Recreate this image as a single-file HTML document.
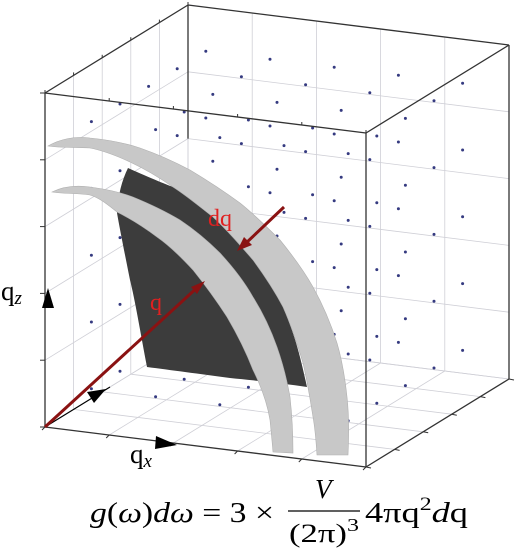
<!DOCTYPE html>
<html><head><meta charset="utf-8">
<style>
html,body{margin:0;padding:0;background:#fff;}
svg{display:block;}
text{font-family:"Liberation Serif","DejaVu Serif",serif;}
</style></head>
<body>
<svg id="fig" width="519" height="552" viewBox="0 0 519 552" xmlns="http://www.w3.org/2000/svg">
  <g id="grid"></g>
  <g id="dots"></g>
  <g id="edges"></g>

  <path fill="#3c3c3c"
    d="M128,168 C150,178 170,186 173,187 C195,200 205,210 213,217 C235,237 245,250 253,260 C270,283 278,297 283,307 C295,335 300,355 307,387 C280,383 250,380 230,378 C200,374 170,370 147,367 C140,330 135,300 130,280 C125,255 120,230 117,213 C118,195 122,180 128,168 Z"/>

  <path fill="#c8c8c8" stroke="#b0b0b0" stroke-width="0.6"
    d="M48,146 C60,139 75,136 90,138 C110,140 125,143 140,148 C160,155 175,162 190,170 C210,182 225,192 240,203 C255,215 268,228 280,240 C293,256 304,271 313,287 C323,305 331,324 337,343 C342,360 345,378 347,397 C349,415 349,435 348,455 L317,455 C316,440 315,428 313,417 C310,398 307,380 303,363 C297,343 291,325 283,307 C274,290 264,275 253,260 C240,245 227,230 213,217 C200,207 187,196 173,187 C160,178 145,169 130,162 C115,155 100,150 90,148 C75,147 60,148 48,146 Z"/>

  <path fill="#c8c8c8" stroke="#b0b0b0" stroke-width="0.6"
    d="M52,192 C62,187 75,185 90,187 C105,189 120,192 133,197 C150,204 165,211 180,220 C195,230 208,241 220,253 C232,266 244,281 253,297 C263,313 271,330 277,347 C283,364 287,380 290,397 C292,415 293,435 293,453 L273,452 C272,440 271,430 270,420 C267,402 261,386 253,370 C246,352 237,334 227,317 C216,300 205,285 193,270 C181,257 170,246 157,237 C145,228 131,219 117,212 C108,205 100,198 90,195 C78,193 64,194 52,192 Z"/>

  <line x1="45" y1="427" x2="110" y2="387" stroke="#000" stroke-width="1.2"/>
  <g>
    <line x1="45" y1="427" x2="200" y2="285" stroke="#8a1212" stroke-width="3"/>
    <polygon points="205,281 191,287 197,294" fill="#8a1212"/>
  </g>
  <g>
    <line x1="284" y1="207" x2="245" y2="244" stroke="#8a1212" stroke-width="3"/>
    <polygon points="237,251 244,237 252,245" fill="#8a1212"/>
  </g>
  <text x="208" y="226" font-size="24" fill="#e02020">dq</text>
  <text x="150" y="310" font-size="24" fill="#e02020">q</text>

  <g>
    <polygon points="48,288 42,308 54,308" fill="#000"/>
    <polygon points="177,445 156,436 155,449" fill="#000"/>
    <polygon points="106,389 87,392 94,403" fill="#000"/>
  </g>
  <text x="1" y="300" font-size="27">q<tspan font-style="italic" font-size="19" dy="4">z</tspan></text>
  <text x="130" y="463" font-size="27">q<tspan font-style="italic" font-size="19" dy="4">x</tspan></text>

  <g>
    <text x="90" y="522" font-size="29" textLength="184" lengthAdjust="spacingAndGlyphs"><tspan font-style="italic">g</tspan>(<tspan font-style="italic">ω</tspan>)<tspan font-style="italic">dω</tspan> = 3 ×</text>
    <text x="315" y="498" font-size="27" font-style="italic">V</text>
    <line x1="288" y1="511" x2="360" y2="511" stroke="#000" stroke-width="1.3"/>
    <text x="289" y="542" font-size="26" textLength="70" lengthAdjust="spacingAndGlyphs">(2π)<tspan font-size="18" dy="-11">3</tspan></text>
    <text x="365" y="522" font-size="29" textLength="103" lengthAdjust="spacingAndGlyphs">4πq<tspan font-size="19" dy="-12">2</tspan><tspan dy="12" font-style="italic">d</tspan>q</text>
  </g>
</svg>
<script>
// projection basis (screen px) for unit cube
const O=[45,427], EX=[321,40], EY=[143,-88], EZ=[0,-334];
const divisions=[0,1,2,3,4,5];
const dotOffsets=[0.5,1.5,2.5,3.5,4.5];
function P(x,y,z){return [O[0]+x*EX[0]+y*EY[0]+z*EZ[0], O[1]+x*EX[1]+y*EY[1]+z*EZ[1]];}
const NS='http://www.w3.org/2000/svg';
function line(g,a,b,col,w,name){
  const l=document.createElementNS(NS,'line');
  l.setAttribute('x1',a[0]);l.setAttribute('y1',a[1]);l.setAttribute('x2',b[0]);l.setAttribute('y2',b[1]);
  l.setAttribute('stroke',col);l.setAttribute('stroke-width',w);
  
  
  g.appendChild(l);
}
const grid=document.getElementById('grid');
divisions.forEach(d=>{
  const t=d/5;
  line(grid,P(t,1,0),P(t,1,1),'#cfcfd6',0.8,'grid-line');
  line(grid,P(0,1,t),P(1,1,t),'#cfcfd6',0.8,'grid-line');
  line(grid,P(0,t,0),P(0,t,1),'#cfcfd6',0.8,'grid-line');
  line(grid,P(0,0,t),P(0,1,t),'#cfcfd6',0.8,'grid-line');
  line(grid,P(t,0,0),P(t,1,0),'#cfcfd6',0.8,'grid-line');
  line(grid,P(0,t,0),P(1,t,0),'#cfcfd6',0.8,'grid-line');
});
const dots=document.getElementById('dots');
dotOffsets.forEach(i=>dotOffsets.forEach(j=>dotOffsets.forEach(k=>{
  const p=P(i/5,j/5,k/5);
  const c=document.createElementNS(NS,'circle');
  c.setAttribute('cx',p[0]);c.setAttribute('cy',p[1]);c.setAttribute('r',1.5);c.setAttribute('fill','#353a80');
  
  
  dots.appendChild(c);
})));
const edges=document.getElementById('edges');
const E=[[[0,0,0],[0,0,1]],[[0,0,0],[1,0,0]],[[0,0,1],[1,0,1]],[[0,0,1],[0,1,1]],[[0,1,1],[1,1,1]],
 [[1,0,1],[1,1,1]],[[1,0,0],[1,0,1]],[[1,1,1],[1,1,0]],[[1,0,0],[1,1,0]],[[0,1,1],[0,1,0.6]]];
E.forEach(e=>line(edges,P(...e[0]),P(...e[1]),'#333',1.3,'box-edge'));
divisions.forEach(d=>{
  const t=d/5;
  let a=P(0,0,t); line(edges,a,[a[0]-5,a[1]],'#333',1,'tick');
  a=P(t,0,0); line(edges,a,[a[0]-3,a[1]+3],'#333',1,'tick');
  a=P(1,t,0); line(edges,a,[a[0]+5,a[1]+1],'#333',1,'tick');
  a=P(t,0,1); line(edges,a,[a[0],a[1]-3],'#333',1,'tick');
  a=P(0,t,1); line(edges,a,[a[0],a[1]-3],'#333',1,'tick');
});
</script>
</body></html>
